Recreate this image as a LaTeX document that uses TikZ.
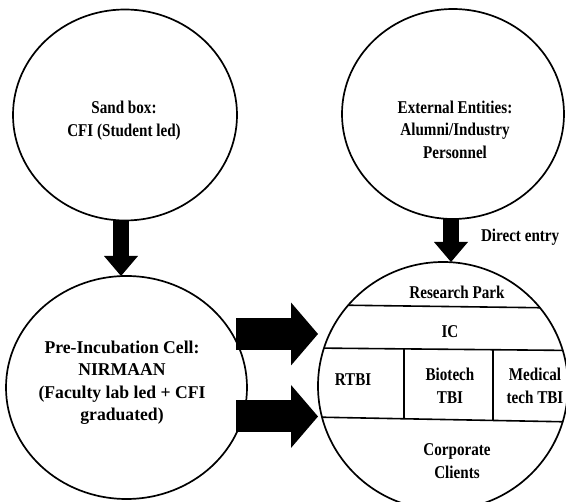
\documentclass[tikz,border=0pt]{standalone}
\usepackage{fontspec}
\newfontfamily\narrowbf{Liberation Serif}[FakeStretch=0.84]
\newfontfamily\widebf{Liberation Serif}[FakeStretch=0.98]
\usetikzlibrary{arrows.meta,shapes.geometric}

\begin{document}
\begin{tikzpicture}[x=1pt,y=-1pt,
    bubble/.style={ellipse,draw,line width=1.7pt,inner sep=0pt,outer sep=0pt},
    txt/.style={align=center,inner sep=0pt,font=\narrowbf\bfseries\fontsize{18}{22.5}\selectfont},
    wtxt/.style={txt,font=\widebf\bfseries\fontsize{18}{22.5}\selectfont},
    rule/.style={line width=1.6pt},
    down/.style={line width=16pt,-{Triangle[length=20pt,width=34pt,line width=0pt]}},
    push/.style={line width=32pt,-{Triangle[length=27pt,width=63pt,line width=0pt]}},
]
\useasboundingbox[fill=white] (0,0) rectangle (566,502);

% the four bubbles
\node[bubble,minimum width=224pt,minimum height=211pt] (c-sand) at (125,115) {};
\node[bubble,minimum width=222pt,minimum height=210pt] (c-ext) at (453,114) {};
\node[bubble,minimum width=241pt,minimum height=223pt] (c-pre) at (126.5,387.5) {};
\node[bubble,minimum width=250pt,minimum height=248pt] (c-park) at (443,386) {};

\node[txt] (t-sand) at (124,120.5) {Sand box:\\CFI (Student led)};
\node[txt] (t-ext) at (455,129.5) {External Entities:\\Alumni/Industry\\Personnel};
\node[wtxt] (t-pre) at (122,382.5) {Pre-Incubation Cell:\\NIRMAAN\\(Faculty lab led + CFI\\graduated)};

% cells of the park
\begin{scope}
  \clip (c-park.center) ellipse [x radius=125pt, y radius=124pt];
  \draw[rule] (330,305) -- (560,308);
  \draw[rule] (310,348) -- (575,350.5);
  \draw[rule] (310,417) -- (575,422);
  \draw[rule] (404,349) -- (404,418);
  \draw[rule] (493,349.5) -- (493,420);
\end{scope}
\node[txt] (t-park) at (457,292) {Research Park};
\node[txt] (t-ic) at (450,332) {IC};
\node[txt] (t-rtbi) at (353,380) {RTBI};
\node[txt] (t-bio) at (450,386) {Biotech\\TBI};
\node[txt] (t-med) at (535,386) {Medical\\tech TBI};
\node[txt] (t-corp) at (457,461) {Corporate\\Clients};

% arrows
\draw[down] ([xshift=-4pt]c-sand.south) -- ([xshift=-4pt]c-sand.south |- c-pre.north);
\draw[down] ([xshift=-2pt]c-ext.south) -- ([xshift=-2pt]c-ext.south |- c-park.north)
    node[pos=0.42,right=22pt,txt] (t-direct) {Direct entry};
\coordinate (p-top) at (236,334);
\coordinate (p-low) at (236,416.5);
\draw[push] (p-top) -- (p-top -| c-park.west);
\draw[push] (p-low) -- (p-low -| c-park.west);
\end{tikzpicture}
\end{document}
